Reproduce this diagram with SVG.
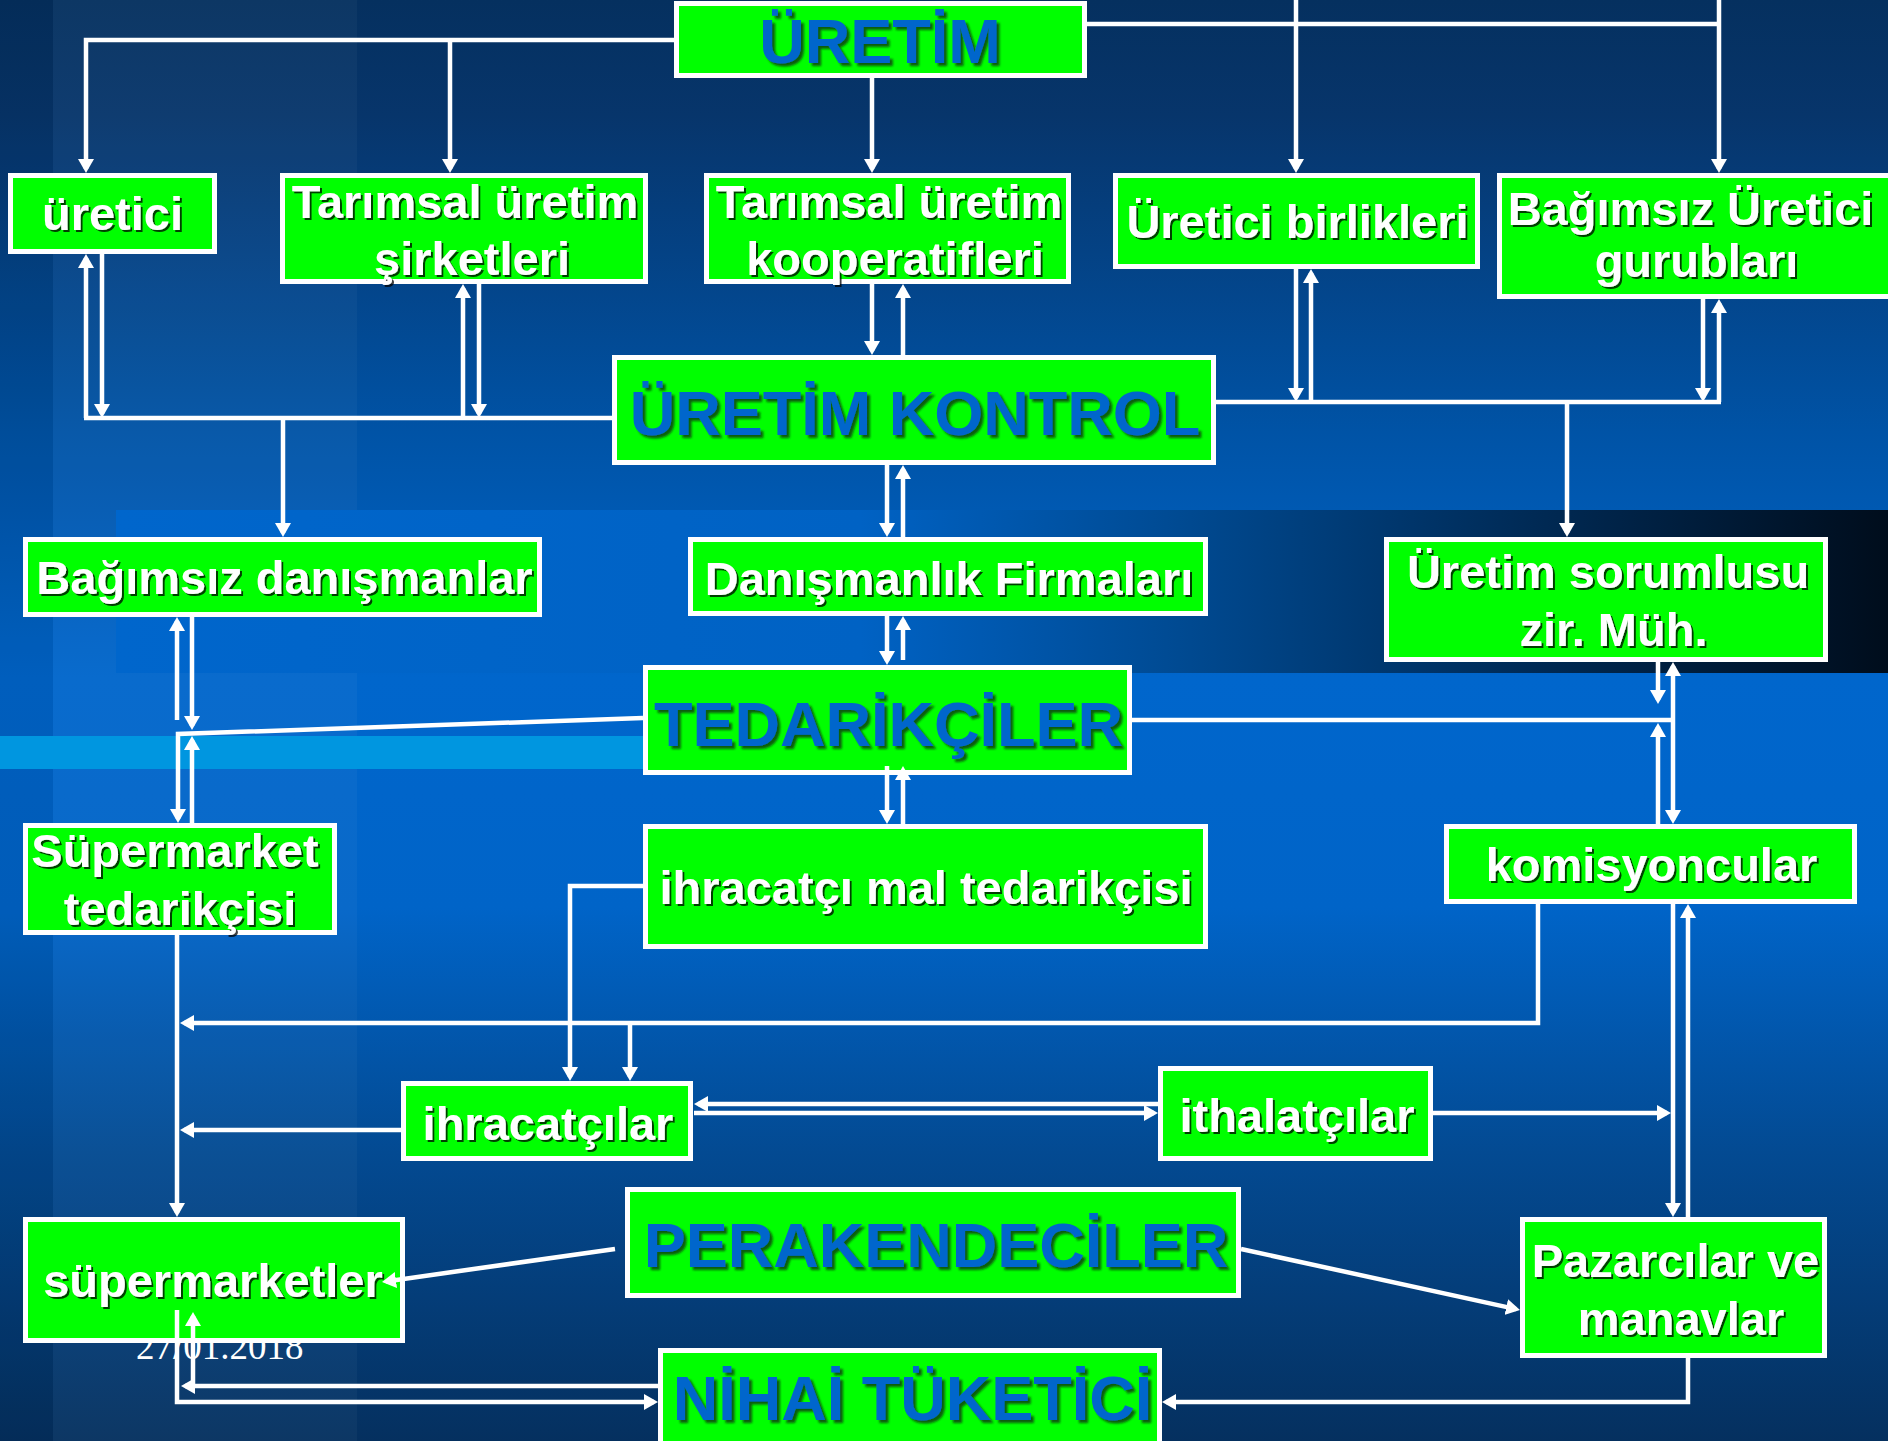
<svg xmlns="http://www.w3.org/2000/svg" width="1888" height="1441" viewBox="0 0 1888 1441">
<defs>
<linearGradient id="bgv" x1="0" y1="0" x2="0" y2="1">
<stop offset="0" stop-color="#05305f"/>
<stop offset="0.08" stop-color="#07356b"/>
<stop offset="0.3" stop-color="#0053a6"/>
<stop offset="0.47" stop-color="#0066cc"/>
<stop offset="0.63" stop-color="#0064c8"/>
<stop offset="0.8" stop-color="#034a92"/>
<stop offset="1" stop-color="#05305f"/>
</linearGradient>
<linearGradient id="band" gradientUnits="userSpaceOnUse" x1="116" y1="0" x2="1888" y2="0">
<stop offset="0" stop-color="#0066cc"/>
<stop offset="0.42" stop-color="#0062c4"/>
<stop offset="0.6" stop-color="#004a92"/>
<stop offset="0.8" stop-color="#002a55"/>
<stop offset="1" stop-color="#000d1c"/>
</linearGradient>
<marker id="ah" viewBox="0 0 14 16" refX="10" refY="8" markerWidth="14" markerHeight="16" markerUnits="userSpaceOnUse" orient="auto">
<path d="M0,0 L14,8 L0,16 Z" fill="#ffffff"/>
</marker>
<filter id="sh" x="-5%" y="-20%" width="110%" height="140%">
<feDropShadow dx="2" dy="2" stdDeviation="0.6" flood-color="#000000" flood-opacity="0.75"/>
</filter>
<filter id="shb" x="-5%" y="-20%" width="110%" height="140%">
<feDropShadow dx="3" dy="3" stdDeviation="0.8" flood-color="#0a2a0a" flood-opacity="0.75"/>
</filter>
<style>
.box{fill:#00ff00;stroke:#ffffff;stroke-width:5}
.t{font-family:"Liberation Sans",Arial,sans-serif;font-weight:bold;font-size:47px;fill:#ffffff;text-anchor:middle;filter:url(#sh)}
.tb{font-family:"Liberation Sans",Arial,sans-serif;font-weight:bold;font-size:63px;fill:#0066cc;text-anchor:middle;filter:url(#shb)}
.c{fill:none;stroke:#ffffff;stroke-width:4.5;stroke-linejoin:miter}
.a{marker-end:url(#ah)}
.date{font-family:"Liberation Serif","Times New Roman",serif;font-size:37px;fill:#ffffff}
</style>
</defs>

<g id="background">
<rect x="0" y="0" width="1888" height="1441" fill="url(#bgv)"/>
<rect x="0" y="0" width="53" height="1441" fill="#000000" opacity="0.07"/>
<rect x="53" y="0" width="304" height="1441" fill="#ffffff" opacity="0.035"/>
<rect x="116" y="510" width="1772" height="163" fill="url(#band)"/>
<rect x="0" y="736" width="645" height="33" fill="#0096e0"/>
</g>

<text class="date" x="136" y="1359">27/01.2018</text>

<g id="uretim"><rect class="box" x="676.5" y="3.5" width="408" height="72"/><text class="tb" x="880" y="63">ÜRETİM</text></g>
<g id="uretici"><rect class="box" x="10.5" y="175.5" width="204" height="76"/><text class="t" x="112.5" y="230">üretici</text></g>
<g id="tarimsal-sirketleri"><rect class="box" x="282.5" y="175.5" width="363" height="106"/><text class="t" x="465" y="218">Tarımsal üretim</text><text class="t" x="472" y="275">şirketleri</text></g>
<g id="tarimsal-kooperatifleri"><rect class="box" x="706.5" y="175.5" width="362" height="106"/><text class="t" x="889" y="218">Tarımsal üretim</text><text class="t" x="895" y="275">kooperatifleri</text></g>
<g id="uretici-birlikleri"><rect class="box" x="1115.5" y="175.5" width="362" height="91"/><text class="t" x="1297.5" y="238">Üretici birlikleri</text></g>
<g id="bagimsiz-uretici"><rect class="box" x="1499.5" y="175.5" width="400" height="121"/><text class="t" x="1690.5" y="225">Bağımsız Üretici</text><text class="t" x="1696.5" y="277">gurubları</text></g>
<g id="uretim-kontrol"><rect class="box" x="614.5" y="357.5" width="599" height="105"/><text class="tb" x="915" y="435">ÜRETİM KONTROL</text></g>
<g id="bagimsiz-danismanlar"><rect class="box" x="25.5" y="539.5" width="514" height="75"/><text class="t" x="284.5" y="594">Bağımsız danışmanlar</text></g>
<g id="danismanlik-firmalari"><rect class="box" x="690.5" y="539.5" width="515" height="74"/><text class="t" x="949" y="595">Danışmanlık Firmaları</text></g>
<g id="uretim-sorumlusu"><rect class="box" x="1386.5" y="539.5" width="439" height="120"/><text class="t" x="1608" y="588">Üretim sorumlusu</text><text class="t" x="1613.5" y="646">zir. Müh.</text></g>
<g id="tedarikciler"><rect class="box" x="645.5" y="667.5" width="484" height="105"/><text class="tb" x="888.5" y="746">TEDARİKÇİLER</text></g>
<g id="supermarket-tedarikcisi"><rect class="box" x="25.5" y="825.5" width="309" height="107"/><text class="t" x="175" y="867">Süpermarket</text><text class="t" x="180" y="925">tedarikçisi</text></g>
<g id="ihracatci-mal"><rect class="box" x="645.5" y="826.5" width="560" height="120"/><text class="t" x="926" y="904">ihracatçı mal tedarikçisi</text></g>
<g id="komisyoncular"><rect class="box" x="1446.5" y="826.5" width="408" height="75"/><text class="t" x="1651.5" y="881">komisyoncular</text></g>
<g id="ihracatcilar"><rect class="box" x="403.5" y="1083.5" width="287" height="75"/><text class="t" x="548" y="1140">ihracatçılar</text></g>
<g id="ithalatcilar"><rect class="box" x="1160.5" y="1068.5" width="270" height="90"/><text class="t" x="1297" y="1132">ithalatçılar</text></g>
<g id="perakendeciler"><rect class="box" x="627.5" y="1189.5" width="611" height="106"/><text class="tb" x="936" y="1267">PERAKENDECİLER</text></g>
<g id="supermarketler"><rect class="box" x="25.5" y="1219.5" width="377" height="121"/><text class="t" x="213" y="1297">süpermarketler</text></g>
<g id="pazarcilar"><rect class="box" x="1522.5" y="1219.5" width="302" height="136"/><text class="t" x="1675.5" y="1277">Pazarcılar ve</text><text class="t" x="1681" y="1335">manavlar</text></g>
<g id="nihai-tuketici"><rect class="box" x="660.5" y="1350.5" width="499" height="100"/><text class="tb" x="912.5" y="1420">NİHAİ TÜKETİCİ</text></g>

<g id="connectors">
<path class="c a" d="M674,40 H86 V169"/>
<path class="c a" d="M450,40 V169"/>
<path class="c a" d="M872,78 V169"/>
<path class="c" d="M1087,24 H1719"/>
<path class="c a" d="M1296,0 V169"/>
<path class="c a" d="M1719,0 V169"/>
<path class="c a" d="M86,418 V258"/>
<path class="c a" d="M102,254 V414"/>
<path class="c" d="M84,418 H612"/>
<path class="c a" d="M463,418 V288"/>
<path class="c a" d="M479,284 V414"/>
<path class="c a" d="M283,418 V533"/>
<path class="c a" d="M872,284 V351"/>
<path class="c a" d="M903,355 V288"/>
<path class="c" d="M1216,402 H1721"/>
<path class="c a" d="M1296,269 V398"/>
<path class="c a" d="M1311,402 V273"/>
<path class="c a" d="M1703,299 V398"/>
<path class="c a" d="M1719,402 V303"/>
<path class="c a" d="M1567,402 V533"/>
<path class="c a" d="M887,465 V533"/>
<path class="c a" d="M903,537 V469"/>
<path class="c a" d="M887,616 V661"/>
<path class="c a" d="M903,660 V620"/>
<path class="c a" d="M887,766 V820"/>
<path class="c a" d="M903,824 V770"/>
<path class="c a" d="M177,720 V621"/>
<path class="c a" d="M192,617 V726"/>
<path class="c a" d="M643,718 L178,734 V819"/>
<path class="c a" d="M192,823 V740"/>
<path class="c a" d="M1658,662 V700"/>
<path class="c a" d="M1673,743 V666"/>
<path class="c a" d="M1673,743 V820"/>
<path class="c" d="M1132,720 H1673"/>
<path class="c a" d="M1658,824 V727"/>
<path class="c a" d="M643,886 H570 V1077"/>
<path class="c a" d="M1538,904 V1023 H184"/>
<path class="c a" d="M630,1023 V1077"/>
<path class="c a" d="M177,935 V1213"/>
<path class="c a" d="M401,1130 H184"/>
<path class="c a" d="M1158,1104 H698"/>
<path class="c a" d="M694,1113 H1154"/>
<path class="c a" d="M1433,1113 H1667"/>
<path class="c a" d="M1673,904 V1213"/>
<path class="c a" d="M1688,1217 V908"/>
<path class="c a" d="M1688,1358 V1402 H1166"/>
<path class="c a" d="M615,1249 L386,1281.4"/>
<path class="c a" d="M1241,1249 L1516.1,1309.1"/>
<path class="c a" d="M177,1310 V1402 H654"/>
<path class="c a" d="M658,1386 H185"/>
<path class="c a" d="M193,1386 V1316"/>
</g>
</svg>
